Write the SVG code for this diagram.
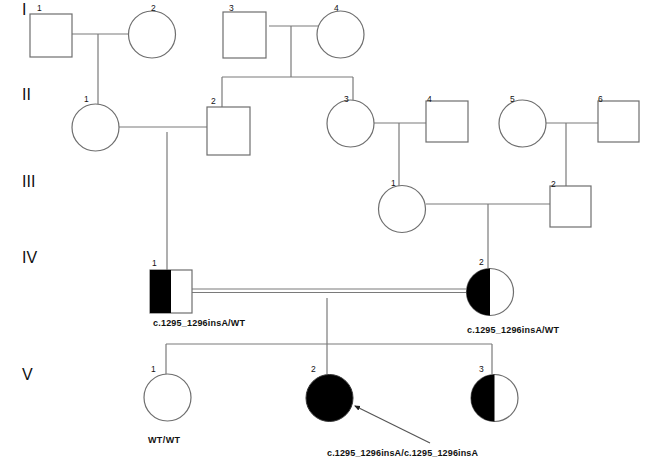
<svg xmlns="http://www.w3.org/2000/svg" width="650" height="463" viewBox="0 0 650 463">
<style>
.s{fill:#fff;stroke:#6e6e6e;stroke-width:1.2}
.c line,.c path{stroke:#7a7a7a;stroke-width:1.2;fill:none}
.g{font-family:"Liberation Sans",Arial,sans-serif;font-size:16px;fill:#111}
.n{font-family:"Liberation Sans",Arial,sans-serif;font-size:8.5px;fill:#111}
.t{font-family:"Liberation Sans",Arial,sans-serif;font-size:9px;font-weight:bold;fill:#111}
.b{fill:#000}
</style>
<defs>
<marker id="ah" markerWidth="6" markerHeight="6" refX="5" refY="3" orient="auto" markerUnits="userSpaceOnUse">
<path d="M0,0.5 L6,3 L0,5.5 Z" fill="#222"/>
</marker>
</defs>
<rect width="650" height="463" fill="#fff"/>
<g id="generations">
<text class="g" x="22" y="15">I</text>
<text class="g" x="22" y="100">II</text>
<text class="g" x="22" y="187">III</text>
<text class="g" x="22" y="263">IV</text>
<text class="g" x="22" y="380">V</text>
</g>
<g class="c" id="connectors">
<line x1="72" y1="34" x2="128" y2="34"/>
<line x1="98" y1="34" x2="98" y2="104"/>
<line x1="269" y1="26" x2="320" y2="26"/>
<line x1="291" y1="26" x2="291" y2="77"/>
<line x1="222" y1="77" x2="353" y2="77"/>
<line x1="222" y1="77" x2="222" y2="107"/>
<line x1="353" y1="77" x2="353" y2="100"/>
<line x1="119" y1="127" x2="207" y2="127"/>
<line x1="167" y1="132" x2="167" y2="270"/>
<line x1="374" y1="123" x2="426" y2="123"/>
<line x1="399" y1="123" x2="399" y2="186"/>
<line x1="546" y1="123" x2="598" y2="123"/>
<line x1="566" y1="123" x2="566" y2="186"/>
<line x1="426" y1="204" x2="550" y2="204"/>
<line x1="488" y1="204" x2="488" y2="268"/>
<line x1="192" y1="289" x2="467" y2="289"/>
<line x1="192" y1="292.5" x2="467" y2="292.5"/>
<line x1="327" y1="298" x2="327" y2="344"/>
<line x1="166" y1="344" x2="492" y2="344"/>
<line x1="166" y1="344" x2="166" y2="374"/>
<line x1="327" y1="344" x2="327" y2="374"/>
<line x1="492" y1="344" x2="492" y2="374"/>
<line x1="430" y1="443" x2="355" y2="406" style="stroke:#555" marker-end="url(#ah)"/>
</g>
<g id="I-1"><rect class="s" x="30" y="14" width="42" height="43"/><text class="n" x="37" y="11">1</text></g>
<g id="I-2"><circle class="s" cx="152" cy="34.5" r="23.5"/><text class="n" x="151" y="11">2</text></g>
<g id="I-3"><rect class="s" x="223" y="12" width="43" height="46"/><text class="n" x="229" y="11">3</text></g>
<g id="I-4"><circle class="s" cx="340.5" cy="34.5" r="23.5"/><text class="n" x="334" y="11">4</text></g>
<g id="II-1"><circle class="s" cx="95.5" cy="127.5" r="23.5"/><text class="n" x="84" y="102">1</text></g>
<g id="II-2"><rect class="s" x="207" y="107" width="43" height="48"/><text class="n" x="211" y="104">2</text></g>
<g id="II-3"><circle class="s" cx="350.5" cy="123.5" r="23.5"/><text class="n" x="344" y="102">3</text></g>
<g id="II-4"><rect class="s" x="426" y="101" width="42" height="41"/><text class="n" x="427" y="102">4</text></g>
<g id="II-5"><circle class="s" cx="522.5" cy="123.5" r="23.5"/><text class="n" x="510" y="102">5</text></g>
<g id="II-6"><rect class="s" x="598" y="101" width="41" height="41"/><text class="n" x="598" y="102">6</text></g>
<g id="III-1"><circle class="s" cx="402" cy="209" r="23.5"/><text class="n" x="391" y="186">1</text></g>
<g id="III-2"><rect class="s" x="550" y="186" width="41" height="41"/><text class="n" x="551" y="187">2</text></g>
<g id="IV-1">
<rect class="s" x="150" y="270" width="42" height="43"/>
<rect class="b" x="150" y="270" width="21" height="43"/>
<text class="n" x="152" y="266">1</text>
<text class="t" x="153" y="326" textLength="92">c.1295_1296insA/WT</text>
</g>
<g id="IV-2">
<circle class="s" cx="490" cy="292" r="23.5"/>
<path class="b" d="M490,268.5 A23.5,23.5 0 0 0 490,315.5 Z"/>
<text class="n" x="479" y="265">2</text>
<text class="t" x="467" y="333" textLength="92">c.1295_1296insA/WT</text>
</g>
<g id="V-1">
<circle class="s" cx="167.5" cy="397.5" r="23.5"/>
<text class="n" x="151" y="372">1</text>
<text class="t" x="148" y="443" textLength="32">WT/WT</text>
</g>
<g id="V-2">
<circle cx="329.5" cy="398" r="23.5" fill="#000" stroke="#333" stroke-width="1"/>
<text class="n" x="311" y="372">2</text>
<text class="t" x="327" y="456" textLength="151">c.1295_1296insA/c.1295_1296insA</text>
</g>
<g id="V-3">
<circle class="s" cx="494.5" cy="398" r="23.5"/>
<path class="b" d="M494.5,374.5 A23.5,23.5 0 0 0 494.5,421.5 Z"/>
<text class="n" x="479" y="372">3</text>
</g>
</svg>
